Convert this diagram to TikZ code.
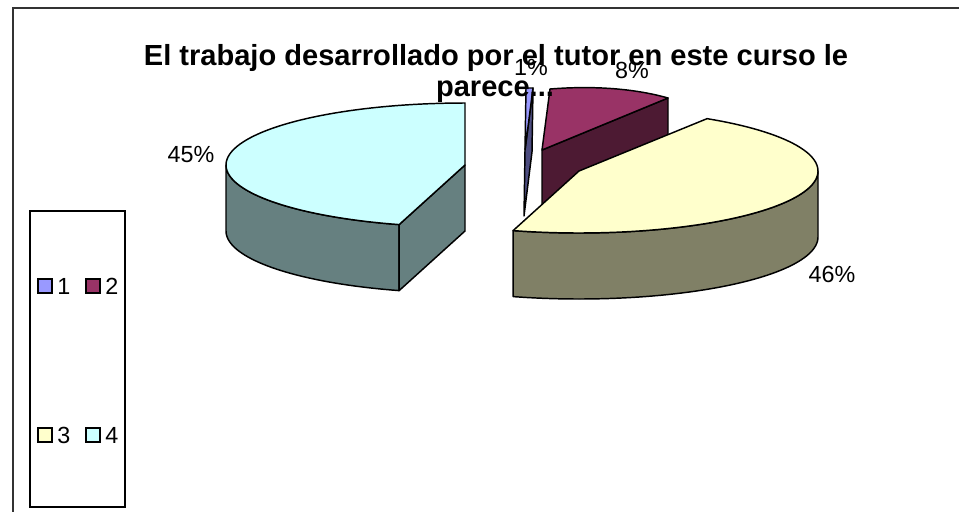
\documentclass[tikz,border=0pt]{standalone}
\usepackage{fontspec}
\setmainfont{Liberation Sans}
\definecolor{cyantop}{HTML}{CCFFFF}
\definecolor{cyanside}{HTML}{668080}
\definecolor{yeltop}{HTML}{FFFFCC}
\definecolor{yelside}{HTML}{808066}
\definecolor{martop}{HTML}{993366}
\definecolor{marside}{HTML}{4D1A33}
\definecolor{bluetop}{HTML}{9999FF}
\definecolor{blueside}{HTML}{4D4D80}
\begin{document}
\begin{tikzpicture}[x=0.75pt,y=-0.75pt,
  face/.style={draw=black,line width=1.1pt,line join=round},
  pct/.style={font=\fontsize{17.5}{20}\selectfont,inner sep=0pt,anchor=base},
  legtxt/.style={font=\fontsize{17.5}{20}\selectfont,inner sep=0pt,anchor=base west},
  legsq/.style={draw=black,line width=1.1pt,minimum size=10.5pt,inner sep=0pt},
  ttl/.style={font=\bfseries\fontsize{21.8}{24}\selectfont,inner sep=0pt,anchor=base}]
\useasboundingbox (0,0) rectangle (959,511);
\def\RX{239}\def\RY{62}\def\H{66}
% frame
\draw[line width=1.3pt,black!80] (13,515) -- (13,8) -- (965,8);
% legend
\draw[line width=0.8pt] (30,211) rectangle (125,507);
\node[legsq,fill=bluetop] (l1) at (45,286) {};
\node[legtxt] (t1) at (57,294) {1};
\node[legsq,fill=martop] (l2) at (93,286) {};
\node[legtxt] (t2) at (105,294) {2};
\node[legsq,fill=yeltop] (l3) at (45,435) {};
\node[legtxt] (t3) at (57,443) {3};
\node[legsq,fill=cyantop] (l4) at (93,435) {};
\node[legtxt] (t4) at (105,443) {4};
% slice 1 (blue)
\filldraw[face,fill=blueside] (533,88) -- (532,152) -- (524,216) -- (525,150) -- cycle;
\filldraw[face,fill=bluetop] (525,150) -- (526,88) -- (533,88) -- cycle;
% slice 2 (maroon)
\filldraw[face,fill=marside] (542,150) -- (668,98) -- (668,164) -- (542,216) -- cycle;
\filldraw[face,fill=martop] (542,150) -- (550,89) .. controls (600,85) and (640,90) .. (668,98) -- cycle;
% slice 4 (cyan)
\filldraw[face,fill=cyanside] plot[domain=180:254,samples=40] ({465+\RX*cos(\x)},{165-\RY*sin(\x)})
   -- plot[domain=254:180,samples=40] ({465+\RX*cos(\x)},{165+\H-\RY*sin(\x)}) -- cycle;
\filldraw[face,fill=cyanside] (465,165) -- ({465+\RX*cos(254)},{165-\RY*sin(254)})
   -- ({465+\RX*cos(254)},{165+\H-\RY*sin(254)}) -- (465,165+\H) -- cycle;
\filldraw[face,fill=cyantop] (465,165) -- plot[domain=90:254,samples=80] ({465+\RX*cos(\x)},{165-\RY*sin(\x)}) -- cycle;
% slice 3 (yellow)
\filldraw[face,fill=yelside] plot[domain=0:-106,samples=60] ({579+\RX*cos(\x)},{171-\RY*sin(\x)})
   -- plot[domain=-106:0,samples=60] ({579+\RX*cos(\x)},{171+\H-\RY*sin(\x)}) -- cycle;
\filldraw[face,fill=yeltop] (579,171) -- plot[domain=57.6:-106,samples=80] ({579+\RX*cos(\x)},{171-\RY*sin(\x)}) -- cycle;
% percentage labels
\node[pct] (p1) at (531,75) {1\%};
\node[pct] (p2) at (632,78) {8\%};
\node[pct] (p3) at (832,282) {46\%};
\node[pct] (p4) at (191,162) {45\%};
% title
\node[ttl] (title1) at (496,65) {El trabajo desarrollado por el tutor en este curso le};
\node[ttl] (title2) at (495,96) {parece...};
\end{tikzpicture}
\end{document}
